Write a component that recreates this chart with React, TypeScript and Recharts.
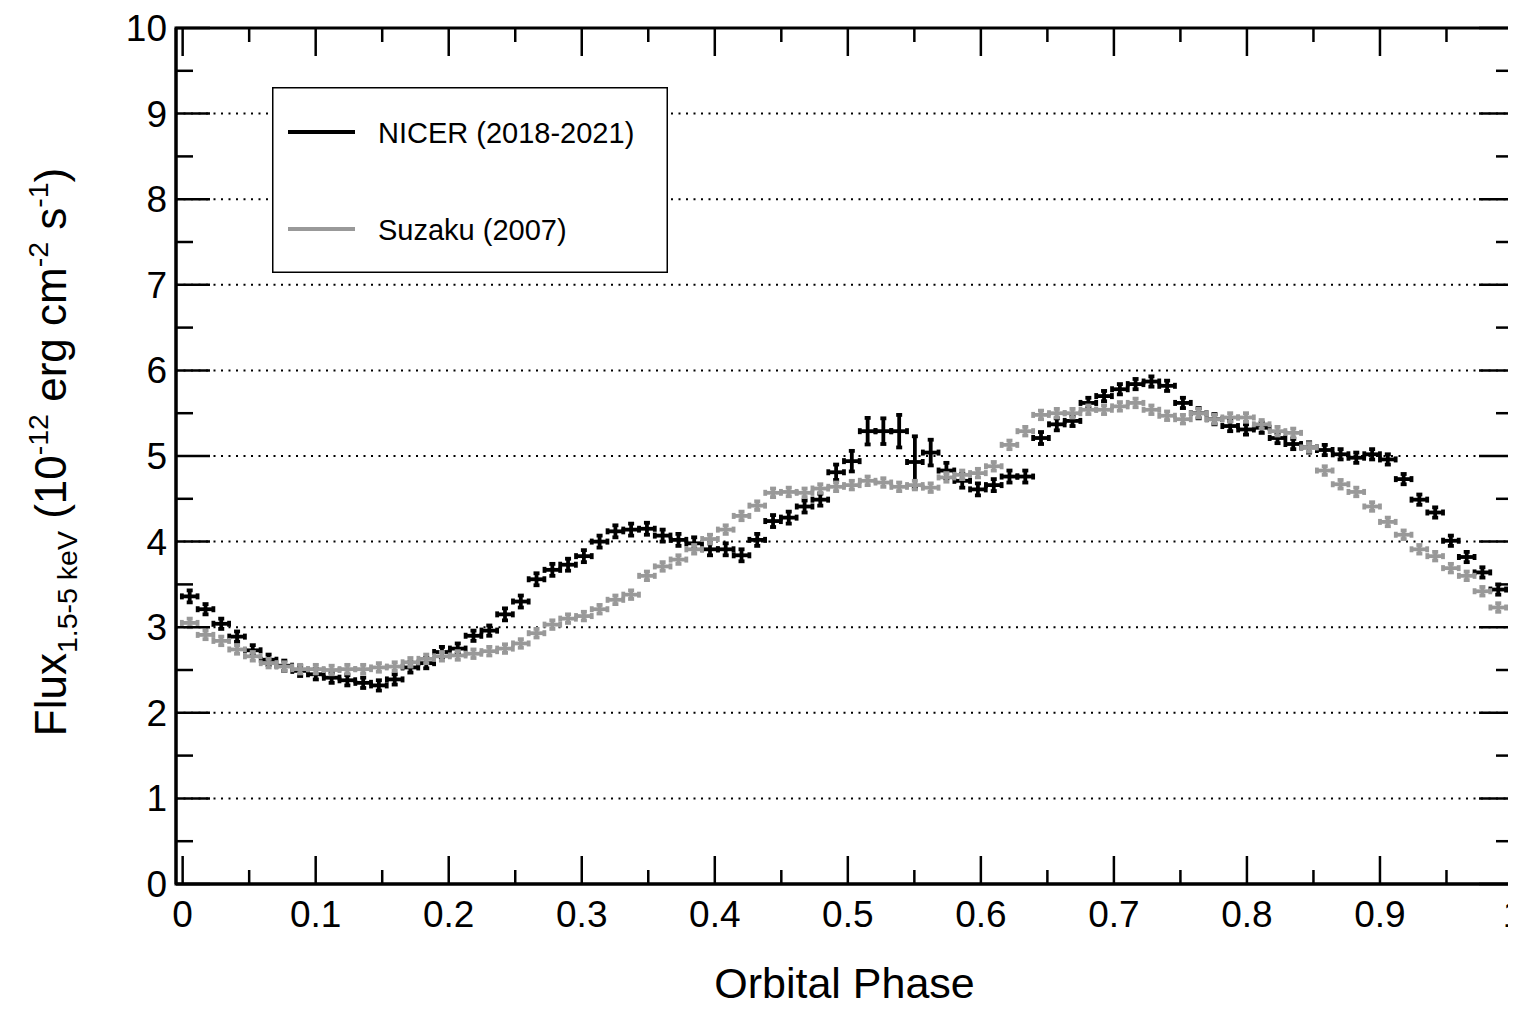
import React from 'react';
import { ScatterChart, Scatter, XAxis, YAxis, ErrorBar, ReferenceLine, ReferenceArea, Legend } from 'recharts';

// ---- data ----
const phase = [
  0.0053, 0.0172, 0.0290, 0.0409, 0.0527, 0.0646, 0.0764, 0.0883, 0.1001, 0.1120,
  0.1238, 0.1357, 0.1475, 0.1594, 0.1712, 0.1831, 0.1949, 0.2068, 0.2186, 0.2305,
  0.2423, 0.2542, 0.2660, 0.2779, 0.2897, 0.3016, 0.3134, 0.3253, 0.3371, 0.3490,
  0.3608, 0.3727, 0.3845, 0.3964, 0.4082, 0.4201, 0.4319, 0.4438, 0.4556, 0.4675,
  0.4793, 0.4912, 0.5030, 0.5149, 0.5267, 0.5386, 0.5504, 0.5623, 0.5741, 0.5860,
  0.5978, 0.6097, 0.6215, 0.6334, 0.6452, 0.6571, 0.6689, 0.6808, 0.6926, 0.7045,
  0.7163, 0.7282, 0.7400, 0.7519, 0.7637, 0.7756, 0.7874, 0.7993, 0.8111, 0.8230,
  0.8348, 0.8467, 0.8585, 0.8704, 0.8822, 0.8941, 0.9059, 0.9178, 0.9296, 0.9415,
  0.9533, 0.9652, 0.9770, 0.9889,
];

const nicerFlux = [
  3.36, 3.21, 3.04, 2.89, 2.73, 2.62, 2.55, 2.49, 2.45, 2.41,
  2.38, 2.35, 2.32, 2.39, 2.53, 2.58, 2.71, 2.75, 2.90, 2.96,
  3.15, 3.30, 3.56, 3.67, 3.73, 3.83, 4.00, 4.12, 4.14, 4.15,
  4.07, 4.02, 3.98, 3.91, 3.91, 3.84, 4.02, 4.24, 4.28, 4.41,
  4.49, 4.81, 4.94, 5.29, 5.29, 5.29, 4.93, 5.04, 4.83, 4.71,
  4.61, 4.66, 4.76, 4.76, 5.21, 5.37, 5.41, 5.62, 5.70, 5.78,
  5.84, 5.87, 5.82, 5.62, 5.50, 5.43, 5.35, 5.31, 5.33, 5.21,
  5.14, 5.10, 5.07, 5.02, 4.98, 5.02, 4.96, 4.73, 4.49, 4.34,
  4.01, 3.82, 3.64, 3.44,
];

const nicerErr = [
  0.07, 0.06, 0.06, 0.06, 0.06, 0.06, 0.06, 0.06, 0.06, 0.06,
  0.06, 0.06, 0.06, 0.06, 0.06, 0.06, 0.06, 0.06, 0.06, 0.06,
  0.07, 0.07, 0.07, 0.07, 0.07, 0.07, 0.07, 0.07, 0.07, 0.07,
  0.07, 0.07, 0.07, 0.07, 0.07, 0.07, 0.07, 0.07, 0.07, 0.07,
  0.07, 0.09, 0.12, 0.155, 0.15, 0.19, 0.30, 0.15, 0.09, 0.08,
  0.07, 0.07, 0.07, 0.07, 0.07, 0.07, 0.06, 0.06, 0.06, 0.06,
  0.06, 0.06, 0.06, 0.06, 0.06, 0.06, 0.06, 0.06, 0.06, 0.06,
  0.06, 0.06, 0.06, 0.06, 0.06, 0.06, 0.06, 0.06, 0.06, 0.06,
  0.06, 0.06, 0.06, 0.06,
];

const suzakuFlux = [
  3.05, 2.91, 2.84, 2.74, 2.66, 2.58, 2.54, 2.51, 2.51, 2.50,
  2.51, 2.51, 2.53, 2.54, 2.59, 2.63, 2.66, 2.67, 2.69, 2.72,
  2.75, 2.81, 2.93, 3.03, 3.10, 3.13, 3.21, 3.32, 3.38, 3.60,
  3.71, 3.79, 3.91, 4.03, 4.14, 4.30, 4.42, 4.57, 4.58, 4.57,
  4.62, 4.64, 4.66, 4.71, 4.69, 4.64, 4.66, 4.63, 4.75, 4.78,
  4.80, 4.88, 5.13, 5.29, 5.48, 5.50, 5.50, 5.54, 5.54, 5.58,
  5.62, 5.54, 5.47, 5.43, 5.50, 5.43, 5.45, 5.45, 5.37, 5.29,
  5.27, 5.10, 4.83, 4.67, 4.58, 4.41, 4.23, 4.08, 3.91, 3.83,
  3.69, 3.60, 3.42, 3.23,
];

const suzakuErr = [
  0.05, 0.05, 0.05, 0.05, 0.05, 0.05, 0.05, 0.05, 0.05, 0.05,
  0.05, 0.05, 0.05, 0.05, 0.05, 0.05, 0.05, 0.05, 0.05, 0.05,
  0.05, 0.05, 0.05, 0.05, 0.05, 0.05, 0.05, 0.05, 0.05, 0.05,
  0.05, 0.05, 0.05, 0.05, 0.05, 0.05, 0.05, 0.05, 0.05, 0.05,
  0.05, 0.05, 0.05, 0.05, 0.05, 0.05, 0.05, 0.05, 0.05, 0.05,
  0.05, 0.05, 0.05, 0.05, 0.05, 0.05, 0.05, 0.05, 0.05, 0.05,
  0.05, 0.05, 0.05, 0.05, 0.05, 0.05, 0.05, 0.05, 0.05, 0.05,
  0.05, 0.05, 0.05, 0.05, 0.05, 0.05, 0.05, 0.05, 0.05, 0.05,
  0.05, 0.05, 0.05, 0.05,
];

const halfBin = 0.0059;

const xMajorTicks = [0, 0.1, 0.2, 0.3, 0.4, 0.5, 0.6, 0.7, 0.8, 0.9, 1];
const xTickLabels = ['0', '0.1', '0.2', '0.3', '0.4', '0.5', '0.6', '0.7', '0.8', '0.9', '1'];
const xMinorTicks = [0.05, 0.15, 0.25, 0.35, 0.45, 0.55, 0.65, 0.75, 0.85, 0.95];
const yMajorTicks = [0, 1, 2, 3, 4, 5, 6, 7, 8, 9, 10];
const yTickLabels = ['0', '1', '2', '3', '4', '5', '6', '7', '8', '9', '10'];
const yMinorTicks = [0.5, 1.5, 2.5, 3.5, 4.5, 5.5, 6.5, 7.5, 8.5, 9.5];
const gridLevels = [1, 2, 3, 4, 5, 6, 7, 8, 9];
const xDomain = [-0.005, 1];
const yDomain = [0, 10];

const legendItems = [
  { name: 'NICER (2018-2021)', color: '#000000' },
  { name: 'Suzaku (2007)', color: '#999999' },
];

// ---- derived tables ----
const nicerRows = phase.map((x, i) => ({ x, y: nicerFlux[i], ex: halfBin, ey: nicerErr[i] }));
const suzakuRows = phase.map((x, i) => ({ x, y: suzakuFlux[i], ex: halfBin, ey: suzakuErr[i] }));
const xTicks = [...xMajorTicks, ...xMinorTicks].sort((a, b) => a - b);
const yTicks = [...yMajorTicks, ...yMinorTicks].sort((a, b) => a - b);

// ---- layout ----
const CHART_W = 1508;
const CHART_H = 1000;
const MARGIN = { top: 20, right: 3, bottom: 0, left: 0 };
const PLOT_TOP = MARGIN.top;
const PLOT_RIGHT = CHART_W - MARGIN.right;

const FONT = '"Liberation Sans", Arial, Helvetica, sans-serif';
const majorIndex = (v: number, arr: number[]) => arr.findIndex((m) => Math.abs(m - v) < 1e-6);

const BottomTick = (p: any) => {
  const idx = majorIndex(p.payload.value, xMajorTicks);
  const major = idx >= 0;
  const len = major ? 28 : 14;
  return (
    <g>
      <line x1={p.x} x2={p.x} y1={p.y} y2={p.y - len} stroke="#000" strokeWidth={2.5} />
      <line x1={p.x} x2={p.x} y1={PLOT_TOP} y2={PLOT_TOP + len} stroke="#000" strokeWidth={2.5} />
      {major && (
        <text x={p.x} y={p.y + 43} textAnchor="middle" fontSize={37} fontFamily={FONT} fill="#000">
          {xTickLabels[idx]}
        </text>
      )}
    </g>
  );
};

const LeftTick = (p: any) => {
  const idx = majorIndex(p.payload.value, yMajorTicks);
  const major = idx >= 0;
  const len = major ? 34 : 17;
  return (
    <g>
      <line x1={p.x} x2={p.x + len} y1={p.y} y2={p.y} stroke="#000" strokeWidth={2.5} />
      <line x1={PLOT_RIGHT} x2={PLOT_RIGHT - len} y1={p.y} y2={p.y} stroke="#000" strokeWidth={2.5} />
      {major && (
        <text x={p.x - 9} y={p.y + 13} textAnchor="end" fontSize={37} fontFamily={FONT} fill="#000">
          {yTickLabels[idx]}
        </text>
      )}
    </g>
  );
};

const NoDot = () => <g />;

const XTitle = (props: any) => {
  const vb = props.viewBox || {};
  return (
    <text x={vb.x + vb.width / 2} y={vb.y + 114} textAnchor="middle" fontSize={43} fontFamily={FONT} fill="#000">
      Orbital Phase
    </text>
  );
};

const YTitle = (props: any) => {
  const vb = props.viewBox || {};
  const cy = vb.y + vb.height / 2 - 4;
  return (
    <text
      transform={`translate(58, ${cy}) rotate(-90)`}
      textAnchor="middle"
      fontSize={44}
      fontFamily={FONT}
      fill="#000"
      style={{ whiteSpace: 'pre' }}
    >
      <tspan>Flux</tspan>
      <tspan fontSize={28.5} dy={11}>1.5-5 keV</tspan>
      <tspan dy={-11}> (10</tspan>
      <tspan fontSize={28.5} dy={-18}>-12</tspan>
      <tspan dy={18}> erg cm</tspan>
      <tspan fontSize={28.5} dy={-18}>-2</tspan>
      <tspan dy={18}> s</tspan>
      <tspan fontSize={28.5} dy={-18}>-1</tspan>
      <tspan dy={18}>)</tspan>
    </text>
  );
};

const LegendBox = () => (
  <svg width={396} height={186} style={{ display: 'block' }}>
    <rect x={0.75} y={0.75} width={394.5} height={184.5} fill="#fff" stroke="#000" strokeWidth={1.5} />
    {legendItems.map((it, i) => (
      <g key={it.name}>
        <line x1={16} x2={83} y1={45 + i * 97} y2={45 + i * 97} stroke={it.color} strokeWidth={4} />
        <text x={106} y={56 + i * 97} fontSize={29} fontFamily={FONT} fill="#000">
          {it.name}
        </text>
      </g>
    ))}
  </svg>
);

const axisLineStyle = { stroke: '#000', strokeWidth: 3 };

export default function App() {
  return (
    <ScatterChart width={CHART_W} height={CHART_H} margin={MARGIN}>
      <XAxis
        xAxisId="b"
        type="number"
        dataKey="x"
        domain={xDomain}
        allowDataOverflow
        ticks={xTicks}
        interval={0}
        tickSize={0}
        tickMargin={0}
        tickLine={false}
        tick={(p: any) => <BottomTick {...p} />}
        axisLine={axisLineStyle}
        height={124}
        label={{ content: (p: any) => <XTitle {...p} /> }}
      />
      <YAxis
        yAxisId="l"
        type="number"
        dataKey="y"
        domain={yDomain}
        allowDataOverflow
        ticks={yTicks}
        interval={0}
        tickSize={0}
        tickMargin={0}
        tickLine={false}
        tick={(p: any) => <LeftTick {...p} />}
        axisLine={axisLineStyle}
        width={168}
        label={{ content: (p: any) => <YTitle {...p} /> }}
      />
      <ReferenceArea
        xAxisId="b"
        yAxisId="l"
        x1={xDomain[0]}
        x2={xDomain[1]}
        y1={yDomain[0]}
        y2={yDomain[1]}
        fill="none"
        fillOpacity={0}
        stroke="#000"
        strokeWidth={3}
        ifOverflow="visible"
      />
      {gridLevels.map((v) => (
        <ReferenceLine
          key={v}
          xAxisId="b"
          yAxisId="l"
          y={v}
          stroke="#000"
          strokeWidth={2}
          strokeDasharray="2 5.5"
        />
      ))}
      <Scatter
        name="NICER (2018-2021)"
        data={nicerRows}
        xAxisId="b"
        yAxisId="l"
        fill="#000"
        shape={NoDot}
        isAnimationActive={false}
      >
        <ErrorBar dataKey="ex" direction="x" width={3} stroke="#000" strokeWidth={3.8} isAnimationActive={false} />
        <ErrorBar dataKey="ey" direction="y" width={3} stroke="#000" strokeWidth={3.8} isAnimationActive={false} />
      </Scatter>
      <Scatter
        name="Suzaku (2007)"
        data={suzakuRows}
        xAxisId="b"
        yAxisId="l"
        fill="#999999"
        shape={NoDot}
        isAnimationActive={false}
      >
        <ErrorBar dataKey="ex" direction="x" width={3} stroke="#999999" strokeWidth={3.8} isAnimationActive={false} />
        <ErrorBar dataKey="ey" direction="y" width={3} stroke="#999999" strokeWidth={3.8} isAnimationActive={false} />
      </Scatter>
      <Legend
        layout="vertical"
        align="center"
        verticalAlign="middle"
        wrapperStyle={{ left: 264, top: 79, width: 396, height: 186 }}
        content={() => <LegendBox />}
      />
    </ScatterChart>
  );
}
